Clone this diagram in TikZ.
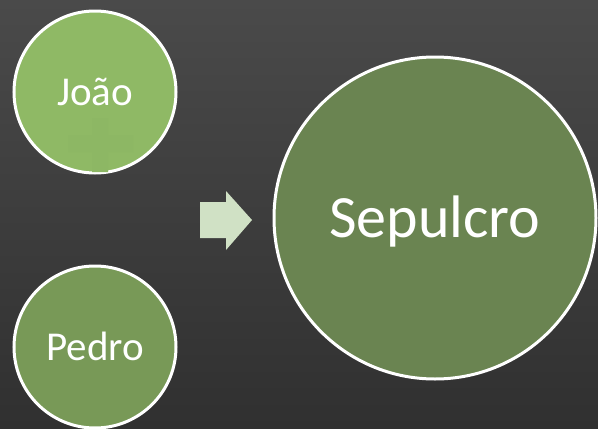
\documentclass[tikz,border=0pt]{standalone}
\usepackage{fontspec}
\setmainfont{Carlito}
\usepackage{tikz}
\usetikzlibrary{positioning}
\usepackage{xcolor}

\definecolor{fundoalto}{HTML}{4A4A4A}
\definecolor{fundobaixo}{HTML}{303030}
\definecolor{verdeclaro}{HTML}{8FB965}
\definecolor{verdemedio}{HTML}{789957}
\definecolor{verdeescuro}{HTML}{6A8451}
\definecolor{verdecruz}{HTML}{8DB764}
\definecolor{setacor}{HTML}{D0E1C5}

\begin{document}
\begin{tikzpicture}
	[   x=1pt, y=-1pt,
	    cnode/.style={draw=white,line width=3pt,fill=#1,circle,inner sep=0pt,text=white},
	    rotulo/.style={font=\fontsize{41}{49}\selectfont,text height=26pt,text depth=0pt,minimum size=162pt},
	    rotulogrande/.style={font=\fontsize{60}{72}\selectfont,text height=38.5pt,text depth=0pt,minimum size=322pt},
	]
	% fundo
	\shade[top color=fundoalto,bottom color=fundobaixo] (0,0) rectangle (598,429);
	\useasboundingbox (0,0) rectangle (598,429);
	
	\node[cnode=verdeclaro,rotulo] (joao) at (95,92) {Jo\~ao};
	% cruz apagada sob o texto
	\fill[verdecruz] (92,118) -- (108,118) -- (108,135) -- (133,135) -- (133,152) -- (108,152)
		-- (108,172) -- (92,172) -- (92,152) -- (68,152) -- (68,135) -- (92,135) -- cycle;
	\node[cnode=verdemedio,rotulo] (pedro) at (95,347) {Pedro};
	
	% seta
	\fill[setacor] (200,202) -- (226,202) -- (226,191) -- (252,220) -- (226,250)
		-- (226,238) -- (200,238) -- cycle;
	
	\node[cnode=verdeescuro,rotulogrande] (sepulcro) at (435,218) {Sepulcro};
\end{tikzpicture}
\end{document}
